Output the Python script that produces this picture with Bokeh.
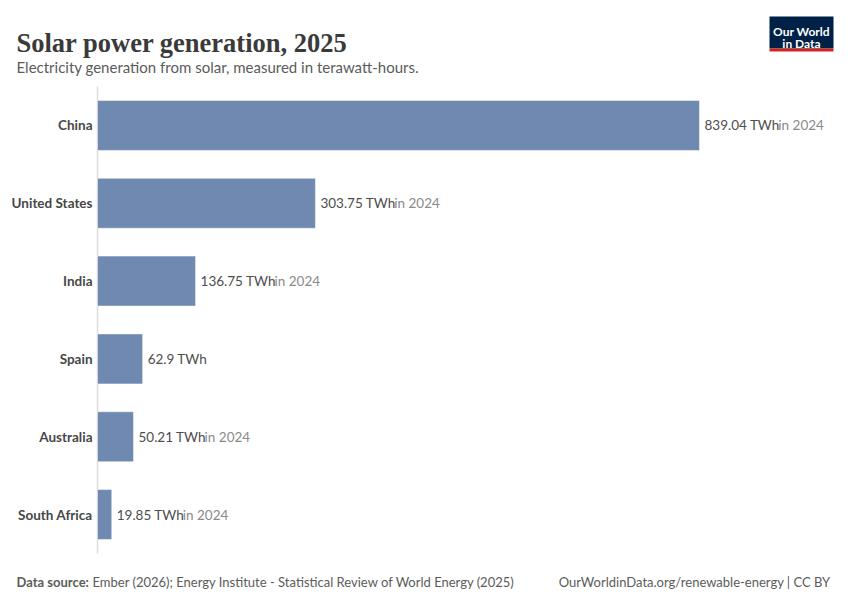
from bokeh.plotting import figure
from bokeh.models import Label, Range1d, ColumnDataSource, BoxAnnotation
from bokeh.core.properties import value
from bokeh.embed import file_html
from bokeh.resources import INLINE

countries = ["China", "United States", "India", "Spain", "Australia", "South Africa"]
values = [839.04, 303.75, 136.75, 62.9, 50.21, 19.85]
years = ["2024", "2024", "2024", "", "2024", "2024"]
unit = "TWh"

title = "Solar power generation, 2025"
subtitle = "Electricity generation from solar, measured in terawatt-hours."
source_bold = "Data source:"
source_text = "Ember (2026); Energy Institute - Statistical Review of World Energy (2025)"
url_text = "OurWorldinData.org/renewable-energy | CC BY"

W, H = 834, 594
FONT = "Lato"
# plot area in page pixels
PL, PT, PB, PR = 97, 86, 553, 699  # PR: where the largest bar ends
BAND = (PB - PT) / len(countries)
per_px = max(values) / (PR - PL)

# approximate Lato advance widths (em)
CW = {d: 0.58 for d in "0123456789"}
CW.update({".": 0.235, " ": 0.193, "T": 0.575, "W": 0.94, "h": 0.555})


def text_width(s, size):
    return sum(CW.get(c, 0.55) for c in s) * size


n = len(countries)
ypos = [n - 1 - i for i in range(n)]  # China on top
labels = [f"{v:.2f}".rstrip("0").rstrip(".") + " " + unit for v in values]
suffix = [f"in {y}" if y else "" for y in years]
FS = 13.5
offsets2 = [5 + text_width(l, FS) + 1 for l in labels]

src = ColumnDataSource(dict(country=countries, y=ypos, value=values, label=labels,
                            suffix=suffix, off2=offsets2, zero=[0] * n))

p = figure(width=W, height=H, output_backend="svg", toolbar_location=None,
           x_range=Range1d(-PL * per_px, (W - PL) * per_px),
           y_range=Range1d(-0.5 - (H - PB) / BAND, n - 0.5 + PT / BAND),
           min_border=0)
p.outline_line_color = None
p.background_fill_color = "white"
p.border_fill_color = "white"
p.grid.visible = False
p.axis.visible = False

# vertical baseline (axis line)
p.segment(x0=0, x1=0, y0=-0.5, y1=n - 0.5, line_color="#dddddd", line_width=1.5)

p.hbar(y="y", right="value", left=0, height=50 / BAND, source=src,
       fill_color="#6f89b1", line_color="#ffffff", line_width=0.5)

# category labels
p.text(x="zero", y="y", text="country", source=src, x_offset=-5,
       text_baseline="middle", text_align="right", text_font=value(FONT),
       text_font_style="bold", text_font_size="13.5px", text_color="#474747")

# value labels
p.text(x="value", y="y", text="label", source=src, x_offset=5,
       text_baseline="middle", text_align="left", text_font=value(FONT),
       text_font_size=f"{FS}px", text_color="#4d4d4d")
p.text(x="value", y="y", text="suffix", source=src, x_offset="off2",
       text_baseline="middle", text_align="left", text_font=value(FONT),
       text_font_size=f"{FS}px", text_color="#8a8a8a")


def lab(X, Y, text, **kw):
    p.add_layout(Label(x=X, y=H - Y, x_units="screen", y_units="screen", text=text,
                       text_baseline="alphabetic", **kw))


lab(16, 42, title, text_font="Liberation Serif", text_font_style="bold",
    text_font_size="26.5px", text_color="#3a3a3a")
lab(16, 66, subtitle, text_font=FONT, text_font_size="15px", text_color="#5b5b5b")

lab(16, 581, source_bold, text_font=FONT, text_font_style="bold",
    text_font_size="13px", text_color="#5b5b5b")
lab(92, 581, source_text, text_font=FONT, text_font_size="13px", text_color="#5b5b5b")
lab(830, 581, url_text, text_font=FONT, text_font_size="13px", text_color="#5b5b5b",
    text_align="right")

# Logo
p.add_layout(BoxAnnotation(left=769, right=833, top=H - 16, bottom=H - 48,
                           left_units="screen", right_units="screen",
                           top_units="screen", bottom_units="screen",
                           fill_color="#002147", fill_alpha=1, line_color=None))
p.add_layout(BoxAnnotation(left=769, right=833, top=H - 48, bottom=H - 51,
                           left_units="screen", right_units="screen",
                           top_units="screen", bottom_units="screen",
                           fill_color="#ce261e", fill_alpha=1, line_color=None))
lab(801, 31, "Our World", text_font=FONT, text_font_style="bold",
    text_font_size="12px", text_color="white", text_align="center")
lab(801, 43, "in Data", text_font=FONT, text_font_style="bold",
    text_font_size="12px", text_color="white", text_align="center")

open("out.html", "w").write(file_html(p, INLINE))
